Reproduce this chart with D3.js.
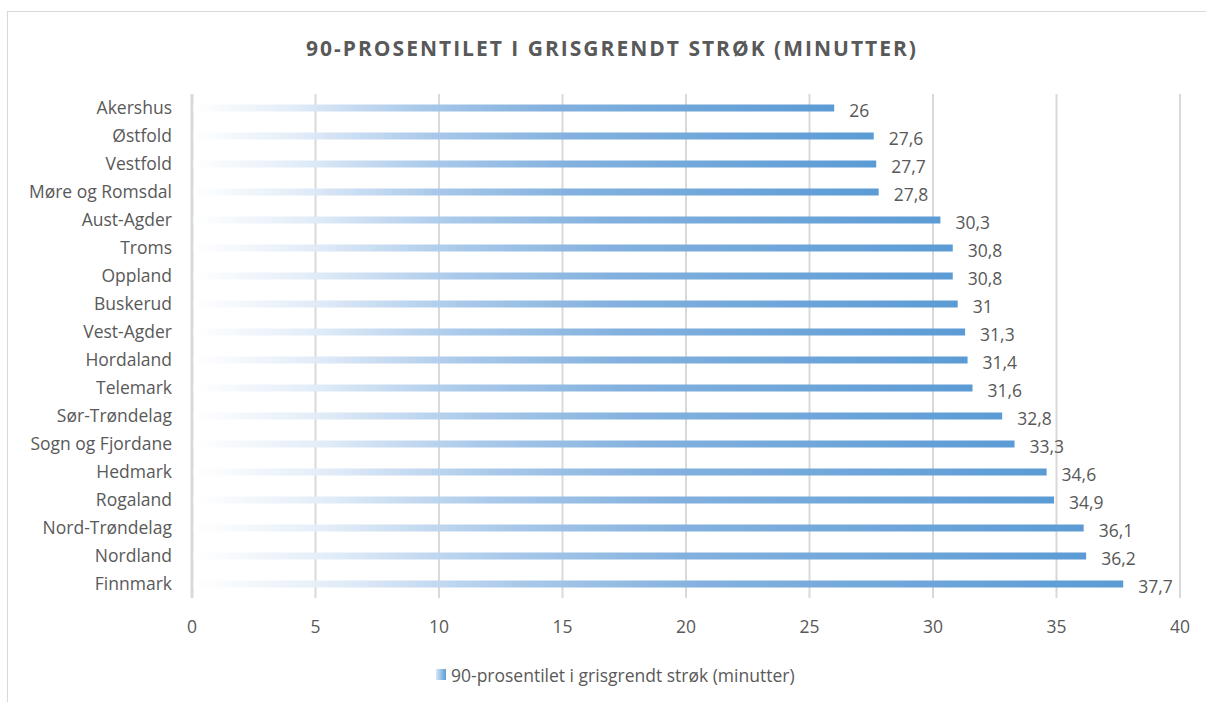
<!DOCTYPE html>
<html>
<head>
    <meta charset="utf-8">
    <title>90-prosentilet i grisgrendt strøk</title>
    <style>
    body { margin: 0; background: #fff; }
    text { font-family: "Open Sans", "Noto Sans", sans-serif; fill: #595959; }
    </style>
</head>
<body>
    <svg width="1206" height="702"></svg>
    <script src="https://d3js.org/d3.v7.min.js"></script>
    <script>
        var fylker = ["Akershus", "Østfold", "Vestfold", "Møre og Romsdal", "Aust-Agder", "Troms",
            "Oppland", "Buskerud", "Vest-Agder", "Hordaland", "Telemark", "Sør-Trøndelag",
            "Sogn og Fjordane", "Hedmark", "Rogaland", "Nord-Trøndelag", "Nordland", "Finnmark"];
        var minutter = [26, 27.6, 27.7, 27.8, 30.3, 30.8, 30.8, 31, 31.3, 31.4, 31.6, 32.8,
            33.3, 34.6, 34.9, 36.1, 36.2, 37.7];
        var ticks = [0, 5, 10, 15, 20, 25, 30, 35, 40];
        var title = "90-PROSENTILET I GRISGRENDT STRØK (MINUTTER)";
        var seriesName = "90-prosentilet i grisgrendt strøk (minutter)";

        var svg = d3.select("svg");

        // chart frame
        svg.append("rect")
            .attr("x", 7.5).attr("y", 11.5)
            .attr("width", 1210).attr("height", 700)
            .attr("fill", "none")
            .attr("stroke", "#d9d9d9");

        var grad = svg.append("defs").append("linearGradient")
            .attr("id", "barfill")
            .attr("x1", 0).attr("x2", 1).attr("y1", 0).attr("y2", 0);
        grad.append("stop").attr("offset", 0).attr("stop-color", "#ffffff");
        grad.append("stop").attr("offset", 0.15).attr("stop-color", "#e3edf8");
        grad.append("stop").attr("offset", 0.35).attr("stop-color", "#a9c9ea");
        grad.append("stop").attr("offset", 0.55).attr("stop-color", "#83b1de");
        grad.append("stop").attr("offset", 1).attr("stop-color", "#5b9bd5");

        var x = d3.scaleLinear().domain([0, 40]).range([192, 1180]);
        var y = d3.scaleBand().domain(fylker).range([94, 598]).padding(0.75).paddingOuter(0.375);

        svg.append("text")
            .attr("x", 612).attr("y", 56)
            .attr("text-anchor", "middle")
            .style("font-size", "21px")
            .style("font-weight", "bold")
            .style("letter-spacing", "2px")
            .text(title);

        // gridlines
        svg.append("g")
            .selectAll("line")
            .data(ticks)
            .enter()
            .append("line")
            .attr("x1", d => x(d)).attr("x2", d => x(d))
            .attr("y1", 94).attr("y2", 598)
            .attr("stroke", "#d9d9d9")
            .attr("stroke-width", d => d === 0 ? 3 : 2);

        svg.append("g")
            .selectAll("text")
            .data(ticks)
            .enter()
            .append("text")
            .attr("x", d => x(d))
            .attr("y", 633)
            .attr("text-anchor", "middle")
            .style("font-size", "17.5px")
            .text(d => d);

        var rows = fylker.map((f, i) => ({ name: f, value: minutter[i] }));

        svg.append("g")
            .selectAll("rect")
            .data(rows)
            .enter()
            .append("rect")
            .attr("x", x(0) + 1.5)
            .attr("y", d => y(d.name))
            .attr("width", d => x(d.value) - x(0) - 1.5)
            .attr("height", y.bandwidth())
            .attr("fill", "url(#barfill)");

        svg.append("g")
            .selectAll("text")
            .data(rows)
            .enter()
            .append("text")
            .attr("x", 172)
            .attr("y", d => y(d.name) + y.bandwidth() / 2 + 6)
            .attr("text-anchor", "end")
            .style("font-size", "17.5px")
            .text(d => d.name);

        svg.append("g")
            .selectAll("text")
            .data(rows)
            .enter()
            .append("text")
            .attr("x", d => x(d.value) + 15)
            .attr("y", d => y(d.name) + y.bandwidth() / 2 + 8.5)
            .style("font-size", "17.5px")
            .text(d => String(d.value).replace(".", ","));

        // legend
        var lgrad = svg.select("defs").append("linearGradient")
            .attr("id", "legfill")
            .attr("x1", 0).attr("x2", 1).attr("y1", 0).attr("y2", 0);
        lgrad.append("stop").attr("offset", 0).attr("stop-color", "#d6e6f5");
        lgrad.append("stop").attr("offset", 1).attr("stop-color", "#5b9bd5");
        svg.append("rect")
            .attr("x", 436).attr("y", 669)
            .attr("width", 10).attr("height", 11)
            .attr("fill", "url(#legfill)");
        svg.append("text")
            .attr("x", 451).attr("y", 681.5)
            .style("font-size", "17.5px")
            .text(seriesName);
    </script>
</body>
</html>
